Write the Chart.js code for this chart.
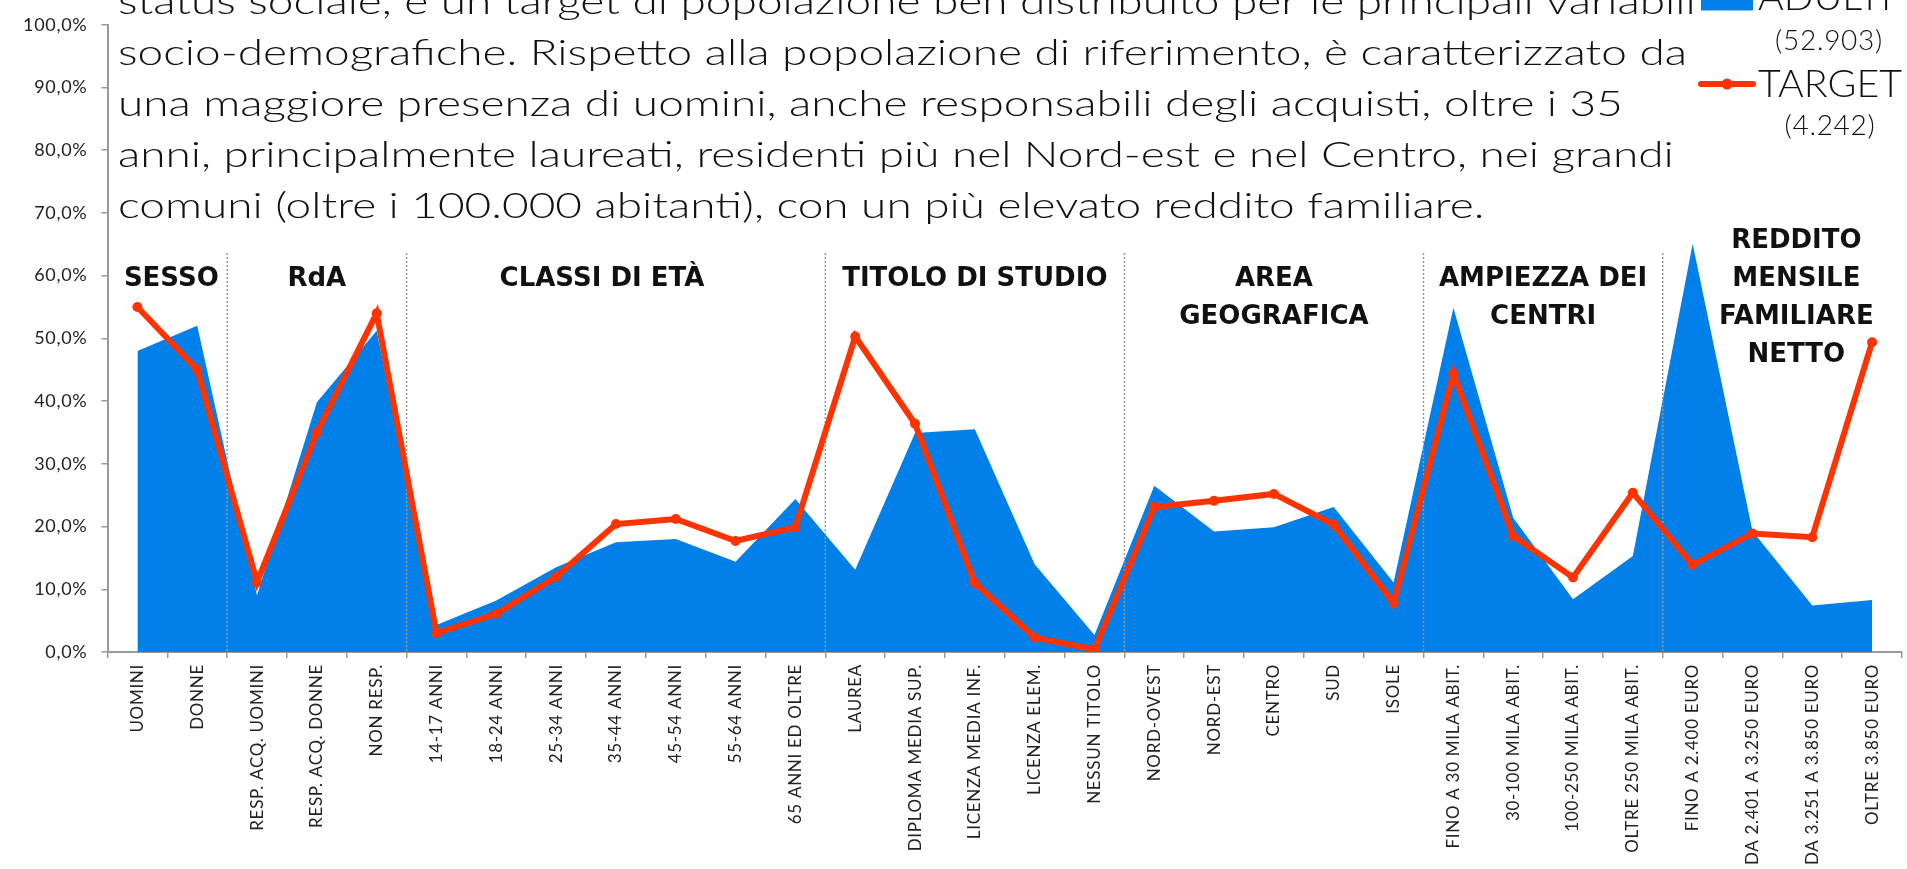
<!DOCTYPE html>
<html>
<head>
<meta charset="utf-8">
<script src="https://cdn.jsdelivr.net/npm/chart.js@4.4.1/dist/chart.umd.min.js"></script>
<style>
  html, body { margin: 0; padding: 0; background: #fff; overflow: hidden; }
  #wrap { position: relative; width: 1907px; height: 869px; }
</style>
</head>
<body>
<div id="wrap"><canvas id="myChart"></canvas></div>
<script>
// Data
const categories = [
    'UOMINI', 'DONNE',
    'RESP. ACQ. UOMINI', 'RESP. ACQ. DONNE', 'NON RESP.',
    '14-17 ANNI', '18-24 ANNI', '25-34 ANNI', '35-44 ANNI', '45-54 ANNI', '55-64 ANNI', '65 ANNI ED OLTRE',
    'LAUREA', 'DIPLOMA MEDIA SUP.', 'LICENZA MEDIA INF.', 'LICENZA ELEM.', 'NESSUN TITOLO',
    'NORD-OVEST', 'NORD-EST', 'CENTRO', 'SUD', 'ISOLE',
    'FINO A 30 MILA ABIT.', '30-100 MILA ABIT.', '100-250 MILA ABIT.', 'OLTRE 250 MILA ABIT.',
    'FINO A 2.400 EURO', 'DA 2.401 A 3.250 EURO', 'DA 3.251 A 3.850 EURO', 'OLTRE 3.850 EURO'
];
const adultiValues = [
    48.0, 52.0,
    9.0, 39.8, 51.2,
    4.3, 8.2, 13.5, 17.5, 18.0, 14.4, 24.4,
    13.1, 34.9, 35.5, 14.0, 2.7,
    26.5, 19.2, 19.9, 23.1, 11.1,
    54.9, 21.4, 8.4, 15.3,
    65.1, 19.3, 7.4, 8.3
];
const targetValues = [
    55.0, 45.0,
    11.1, 35.0, 54.0,
    3.0, 6.1, 12.0, 20.4, 21.2, 17.7, 19.9,
    50.3, 36.4, 11.0, 2.3, 0.4,
    23.1, 24.1, 25.2, 20.3, 7.8,
    44.4, 18.5, 11.9, 25.4,
    13.9, 18.9, 18.3, 49.4
];
const yTickLabels = ['0,0%', '10,0%', '20,0%', '30,0%', '40,0%', '50,0%', '60,0%', '70,0%', '80,0%', '90,0%', '100,0%'];
const groupNames = [
    ['SESSO'], ['RdA'], ['CLASSI DI ETÀ'], ['TITOLO DI STUDIO'],
    ['AREA', 'GEOGRAFICA'], ['AMPIEZZA DEI', 'CENTRI'], ['REDDITO', 'MENSILE', 'FAMILIARE', 'NETTO']
];
const groupSizes = [2, 3, 7, 5, 5, 4, 4];
const seriesNames = ['ADULTI', 'TARGET'];
const seriesCounts = ['(52.903)', '(4.242)'];
const noteLines = [
    'status sociale, è un target di popolazione ben distribuito per le principali variabili',
    'socio-demografiche. Rispetto alla popolazione di riferimento, è caratterizzato da',
    'una maggiore presenza di uomini, anche responsabili degli acquisti, oltre i 35',
    'anni, principalmente laureati, residenti più nel Nord-est e nel Centro, nei grandi',
    'comuni (oltre i 100.000 abitanti), con un più elevato reddito familiare.'
];

const BLUE = '#0080E8';
const RED = '#FF3300';
const INK = '#111';
const TEXT_FONT = '300 36px Lato, "Open Sans", sans-serif';

// axis labels in the original are a wide font, so open them up a little
const spacing = {
    id: 'spacing',
    beforeDraw(chart) { chart.ctx.letterSpacing = '0.7px'; },
    afterDraw(chart) { chart.ctx.letterSpacing = '0px'; }
};

// dotted separators between groups, drawn above the area but below the line
const separators = {
    id: 'separators',
    afterDatasetDraw(chart, args) {
        if (args.index !== 0) return;
        const { ctx, scales: { x, y } } = chart;
        ctx.save();
        ctx.strokeStyle = '#999';
        ctx.lineWidth = 1.5;
        ctx.setLineDash([2, 2]);
        let start = 0;
        groupSizes.slice(0, -1).forEach(size => {
            start += size;
            const px = (x.getPixelForValue(start - 1) + x.getPixelForValue(start)) / 2;
            ctx.beginPath();
            ctx.moveTo(px, 253);
            ctx.lineTo(px, y.getPixelForValue(0));
            ctx.stroke();
        });
        ctx.restore();
    }
};

// paragraph, group titles and legend
const overlay = {
    id: 'overlay',
    afterDraw(chart) {
        const { ctx, scales: { x } } = chart;
        ctx.save();
        ctx.letterSpacing = '0px';
        ctx.fillStyle = INK;
        ctx.textBaseline = 'alphabetic';

        // paragraph
        ctx.font = TEXT_FONT;
        const sx = 1569 / ctx.measureText(noteLines[1]).width;
        ctx.save();
        ctx.scale(sx, 1);
        noteLines.forEach((line, i) => {
            ctx.fillText(line, 118 / sx, 14 + 51 * i);
        });
        ctx.restore();

        // group titles
        ctx.font = 'bold 26px "DejaVu Sans", sans-serif';
        ctx.textAlign = 'center';
        const nudge = [4, 0, -14, 0, 0, 0, 14];
        let start = 0;
        groupNames.forEach((lines, g) => {
            const end = start + groupSizes[g] - 1;
            const cx = (x.getPixelForValue(start) + x.getPixelForValue(end)) / 2 + nudge[g];
            const top = lines.length > 2 ? 248 : 286;
            lines.forEach((t, k) => ctx.fillText(t, cx, top + 38 * k));
            start = end + 1;
        });

        // legend
        ctx.textAlign = 'left';
        ctx.fillStyle = BLUE;
        ctx.fillRect(1701, -20, 52, 30.5);
        ctx.strokeStyle = RED;
        ctx.lineWidth = 6;
        ctx.lineCap = 'round';
        ctx.beginPath();
        ctx.moveTo(1701, 84);
        ctx.lineTo(1753, 84);
        ctx.stroke();
        ctx.fillStyle = RED;
        ctx.beginPath();
        ctx.arc(1727, 84, 5.5, 0, Math.PI * 2);
        ctx.fill();

        ctx.fillStyle = INK;
        ctx.font = '300 37px Lato, sans-serif';
        const st = 144 / ctx.measureText(seriesNames[1]).width;
        ctx.save();
        ctx.scale(st, 1);
        ctx.fillText(seriesNames[0], 1758 / st, 10);
        ctx.fillText(seriesNames[1], 1758 / st, 97);
        ctx.restore();
        ctx.font = '300 28px Lato, sans-serif';
        ctx.letterSpacing = '0.7px';
        ctx.textAlign = 'center';
        ctx.fillText(seriesCounts[0], 1829, 50);
        ctx.fillText(seriesCounts[1], 1830, 135);
        ctx.restore();
    }
};

const ctx = document.getElementById('myChart').getContext('2d');
const myChart = new Chart(ctx, {
    type: 'line',
    data: {
        labels: categories,
        datasets: [{
            label: seriesNames[0],
            data: adultiValues,
            backgroundColor: BLUE,
            borderWidth: 0,
            pointRadius: 0,
            fill: 'origin',
            order: 1
        }, {
            label: seriesNames[1],
            data: targetValues,
            borderColor: RED,
            backgroundColor: RED,
            borderWidth: 6,
            pointRadius: 5,
            pointBorderWidth: 0,
            pointBackgroundColor: RED,
            fill: false,
            order: 0
        }]
    },
    options: {
        responsive: true,
        maintainAspectRatio: false,
        animation: false,
        layout: { padding: { top: 18, right: 3, left: 0, bottom: 0 } },
        plugins: {
            legend: { display: false },
            tooltip: { enabled: false }
        },
        scales: {
            x: {
                offset: true,
                grid: { offset: true, drawOnChartArea: false, color: '#999', tickLength: 6, lineWidth: 1.5 },
                border: { color: '#999', width: 2 },
                ticks: {
                    autoSkip: false,
                    minRotation: 90,
                    maxRotation: 90,
                    padding: 6,
                    color: '#222',
                    font: { family: 'Lato, sans-serif', size: 17 }
                },
                afterFit(scale) { scale.height = 217; }
            },
            y: {
                min: 0,
                max: 100,
                grid: { drawOnChartArea: false, color: '#999', tickLength: 6, lineWidth: 1.5 },
                border: { color: '#999', width: 2 },
                ticks: {
                    stepSize: 10,
                    padding: 14,
                    color: '#222',
                    font: { family: 'Lato, sans-serif', size: 18 },
                    callback: (v) => yTickLabels[Math.round(v / 10)]
                },
                afterFit(scale) { scale.width = 107.5; }
            }
        }
    },
    plugins: [spacing, separators, overlay]
});
</script>
</body>
</html>
